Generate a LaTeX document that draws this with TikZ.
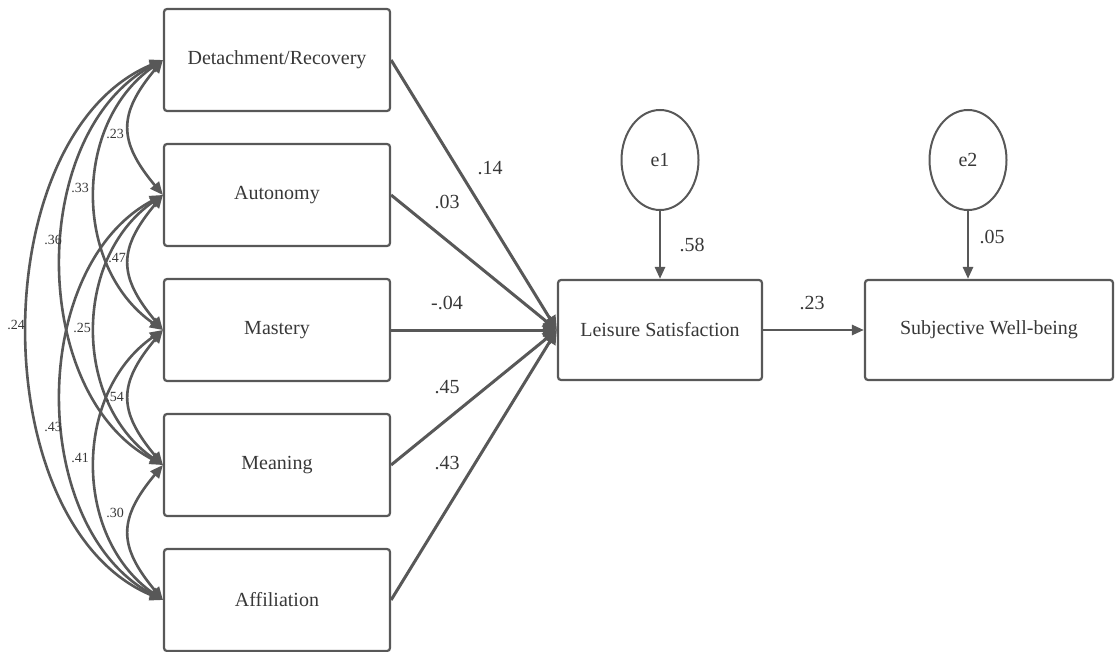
\documentclass[tikz,border=0pt]{standalone}
\usepackage{fontspec}
\setmainfont{Liberation Serif}
\usetikzlibrary{arrows.meta,shapes.geometric}
\definecolor{ln}{HTML}{585858}
\definecolor{tx}{HTML}{383838}
\begin{document}
\begin{tikzpicture}[x=1pt,y=-1pt,
  box/.style={draw=ln, line width=2.2pt, rounded corners=3pt, minimum width=226pt, minimum height=102pt, font=\fontsize{20}{23}\selectfont, text=tx, inner sep=0pt},
  err/.style={draw=ln, line width=2pt, ellipse, minimum width=77pt, minimum height=100pt, font=\fontsize{20}{23}\selectfont, text=tx, inner sep=0pt},
  pathar/.style={draw=ln, line width=3pt, -{Triangle[length=14pt,width=13pt]}},
  smallar/.style={draw=ln, line width=2.6pt, -{Triangle[length=12pt,width=10pt]}},
  cov/.style={draw=ln, line width=2.6pt, {Triangle[length=13pt,width=11pt]}-{Triangle[length=13pt,width=11pt]}},
  lab/.style={font=\fontsize{20}{23}\selectfont, text=tx, inner sep=0pt},
  clab/.style={font=\fontsize{14}{16}\selectfont, text=tx, inner sep=0pt}
]
\useasboundingbox (0,0) rectangle (1115,652);

\node[box] (det) at (277,60) {Detachment/Recovery};
\node[box] (aut) at (277,195) {Autonomy};
\node[box] (mas) at (277,330) {Mastery};
\node[box] (mea) at (277,465) {Meaning};
\node[box] (aff) at (277,600) {Affiliation};

\node[box, minimum width=204pt, minimum height=100pt] (ls) at (660,330) {Leisure Satisfaction};
\node[box, minimum width=248pt, minimum height=100pt] (sw) at (989,330) {Subjective Well-being};

\node[err] (e1) at (660,160) {e1};
\node[err] (e2) at (968,160) {e2};

% paths
\draw[pathar] (det.east) -- (ls.west);
\draw[pathar] (aut.east) -- (ls.west);
\draw[pathar] (mas.east) -- (ls.west);
\draw[pathar] (mea.east) -- (ls.west);
\draw[pathar] (aff.east) -- (ls.west);
\draw[smallar] (ls.east) -- (sw.west);
\draw[smallar] (e1.south) -- (ls.north);
\draw[smallar] (e2.south) -- (e2.south |- sw.north);

\node[lab] at (490,168) {.14};
\node[lab] at (447,202) {.03};
\node[lab] at (447,303) {-.04};
\node[lab] at (447,387) {.45};
\node[lab] at (447,463) {.43};
\node[lab] at (692,245) {.58};
\node[lab] at (992,237) {.05};
\node[lab] at (812,303) {.23};

% covariances
\draw[cov] (det.west) .. controls +(-45,54) and +(-45,-54) .. (aut.west);
\draw[cov] (aut.west) .. controls +(-45,54) and +(-45,-54) .. (mas.west);
\draw[cov] (mas.west) .. controls +(-45,54) and +(-45,-54) .. (mea.west);
\draw[cov] (mea.west) .. controls +(-45,54) and +(-45,-54) .. (aff.west);
\draw[cov] (det.west) .. controls +(-90,63) and +(-90,-63) .. (mas.west);
\draw[cov] (aut.west) .. controls +(-90,63) and +(-90,-63) .. (mea.west);
\draw[cov] (mas.west) .. controls +(-90,63) and +(-90,-63) .. (aff.west);
\draw[cov] (det.west) .. controls +(-135,72) and +(-135,-72) .. (mea.west);
\draw[cov] (aut.west) .. controls +(-135,72) and +(-135,-72) .. (aff.west);
\draw[cov] (det.west) .. controls +(-180,75) and +(-180,-75) .. (aff.west);

\node[clab] at (115,134) {.23};
\node[clab] at (80,188) {.33};
\node[clab] at (53,240) {.36};
\node[clab] at (16,325) {.24};
\node[clab] at (117,258) {.47};
\node[clab] at (82,328) {.25};
\node[clab] at (115,397) {.54};
\node[clab] at (53,427) {.43};
\node[clab] at (80,458) {.41};
\node[clab] at (115,513) {.30};
\end{tikzpicture}
\end{document}
